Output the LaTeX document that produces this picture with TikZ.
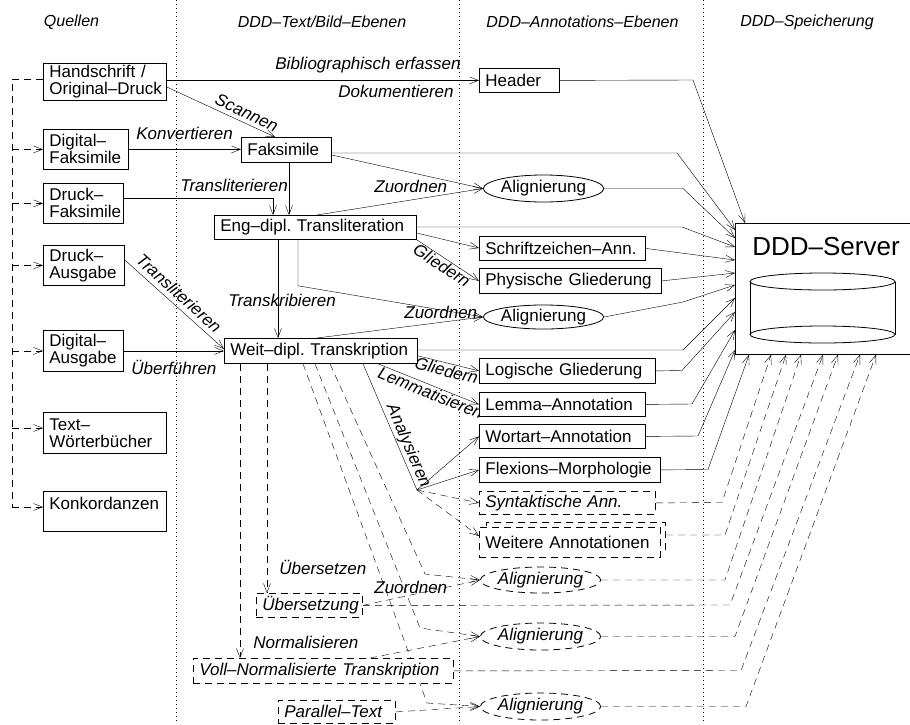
\documentclass[tikz,border=0pt]{standalone}
\usepackage{fontspec}
\setmainfont{Liberation Sans}
\usetikzlibrary{arrows.meta,shapes.geometric,calc}
\pgfdeclarelayer{background}
\pgfsetlayers{background,main}
\begin{document}
\hyphenpenalty=10000 \exhyphenpenalty=10000 \frenchspacing
\begin{tikzpicture}[x=1pt,y=-1pt,line width=0.8pt,
  every node/.style={font=\fontsize{17}{17}\selectfont},
  lbl/.style={font=\fontsize{17}{17}\selectfont\itshape, inner sep=1pt},
  head/.style={font=\fontsize{16}{16}\selectfont\itshape, inner sep=0pt},
  dsh/.style={dash pattern=on 7pt off 5pt},
  box/.style={draw, fill=white, rectangle, anchor=north west, align=left, inner xsep=6pt, inner ysep=0pt},
  dbox/.style={box, dsh, font=\fontsize{17}{17}\selectfont\itshape},
  ell/.style={draw, fill=white, ellipse, inner sep=0pt},
  dell/.style={ell, dsh, font=\fontsize{17}{17}\selectfont\itshape},
  arr/.style={-{Straight Barb[length=9pt,width=7pt]}},
  sep/.style={dash pattern=on 1pt off 3pt, line width=0.8pt}
]
\useasboundingbox (0,0) rectangle (910,724);

% column separators
\draw[sep] (176,0) -- (176,724);
\draw[sep] (459,0) -- (459,724);
\draw[sep] (703,0) -- (703,724);

% column headings
\node[head] (hq) at (71.5,22) {Quellen};
\node[head] (ht) at (322,22) {DDD–Text/Bild–Ebenen};
\node[head] (ha) at (582.5,22) {DDD–Annotations–Ebenen};
\node[head] (hs) at (807,22) {DDD–Speicherung};

% sources
\node[box, text width=111pt, minimum height=37pt] (hand) at (43,63) {Handschrift /\\Original–Druck};
\node[box, text width=73pt, minimum height=40pt] (dfak) at (43,129) {Digital–\\Faksimile};
\node[box, text width=68pt, minimum height=40pt] (drfak) at (43,183) {Druck–\\Faksimile};
\node[box, text width=69pt, minimum height=40pt] (drausg) at (43,245) {Druck–\\Ausgabe};
\node[box, text width=68pt, minimum height=41pt] (digausg) at (43,330) {Digital–\\Ausgabe};
\node[box, text width=111pt, minimum height=41pt] (textwb) at (43,412) {Text–\\Wörterbücher};
\node[box, text width=111pt, minimum height=40pt] (konk) at (43,491) {Konkordanzen\\\mbox{}};

% text / image layers
\node[box, text width=78pt, minimum height=25pt] (fak) at (241,137) {Faksimile};
\node[box, text width=190pt, minimum height=24pt] (eng) at (214,215) {\mbox{Eng–dipl. Transliteration}};
\node[box, text width=181pt, minimum height=25pt] (weit) at (224,338) {\mbox{Weit–dipl. Transkription}};
\node[dbox, text width=94pt, minimum height=24pt] (ueb) at (256,593) {Übersetzung};
\node[dbox, text width=248pt, minimum height=25pt] (voll) at (193,658) {\mbox{Voll–Normalisierte Transkription}};
\node[dbox, text width=105pt, minimum height=23pt] (para) at (278,700) {Parallel–Text};

% annotation layers
\node[box, text width=68pt, minimum height=24pt] (header) at (479,68) {Header};
\node[ell, minimum width=119pt, minimum height=27pt] (al1) at (543.5,188.5) {Alignierung};
\node[box, text width=154pt, minimum height=24pt] (schrift) at (479,236) {Schriftzeichen–Ann.};
\node[box, text width=170pt, minimum height=25pt] (phys) at (479,268) {\mbox{Physische Gliederung}};
\node[ell, minimum width=117pt, minimum height=24pt] (al2) at (543.5,317) {Alignierung};
\node[box, text width=164pt, minimum height=25pt] (logi) at (479,358) {\mbox{Logische Gliederung}};
\node[box, text width=154pt, minimum height=24pt] (lemma) at (479,392) {Lemma–Annotation};
\node[box, text width=154pt, minimum height=24pt] (wortart) at (479,424) {Wortart–Annotation};
\node[box, text width=169pt, minimum height=25pt] (flex) at (479,457) {Flexions–Morphologie};
\node[dbox, text width=164pt, minimum height=23pt] (synt) at (479,491) {\mbox{Syntaktische Ann.}};
\node[box, dsh, text width=167pt, minimum height=29pt] (weitereb) at (486,522) {};
\node[box, dsh, text width=169pt, minimum height=30pt] (weitere) at (479,527) {\mbox{Weitere Annotationen}};
\node[dell, minimum width=115pt, minimum height=26pt] (ad1) at (540.5,580) {Alignierung};
\node[dell, minimum width=115pt, minimum height=27pt] (ad2) at (540.5,636.5) {Alignierung};
\node[dell, minimum width=115pt, minimum height=27pt] (ad3) at (540.5,706.5) {Alignierung};

% storage
\node[draw, fill=white, anchor=north west, minimum width=185pt, minimum height=131pt, inner sep=0pt] (server) at (735,223) {};
\node[font=\fontsize{26}{26}\selectfont] (srvname) at (826,247) {DDD–Server};
\draw (822.5,281.5) ellipse [x radius=72.5, y radius=8.5];
\draw (822.5,334.5) ellipse [x radius=72.5, y radius=8.5];
\draw (750,281.5) -- (750,334.5);
\draw (895,281.5) -- (895,334.5);

% free labels
\node[lbl, anchor=east] (lbib) at (462,65) {Bibliographisch erfassen};
\node[lbl, anchor=east] (ldok) at (455,91) {Dokumentieren};
\node[lbl, anchor=west] (lkonv) at (135,133) {Konvertieren};
\node[lbl, anchor=west] (ltl1) at (179,185) {Transliterieren};
\node[lbl, anchor=west] (lzu1) at (373,186) {Zuordnen};
\node[lbl, anchor=west] (ltrk) at (227,300) {Transkribieren};
\node[lbl, anchor=west] (lzu2) at (403,312) {Zuordnen};
\node[lbl, anchor=west] (luef) at (130,367) {Überführen};
\node[lbl, anchor=west] (luebs) at (278,567) {Übersetzen};
\node[lbl, anchor=west] (lzu3) at (373,587) {Zuordnen};
\node[lbl, anchor=west] (lnorm) at (252,642) {Normalisieren};

\coordinate (railtop) at (12,79);
\coordinate (railbot) at (12,507);
\coordinate (ana) at (417,490);

\begin{pgfonlayer}{background}
% source bracket
\draw[dsh] ($(hand.north west)+(0,16)$) -- (railtop) -- (railbot);
\draw[dsh,arr] (railtop |- dfak.west) -- (dfak.west);
\draw[dsh,arr] (railtop |- drfak.west) -- (drfak.west);
\draw[dsh,arr] (railtop |- drausg.west) -- (drausg.west);
\draw[dsh,arr] (railtop |- digausg.west) -- (digausg.west);
\draw[dsh,arr] ($(railtop)+(0,349)$) -- ($(textwb.north west)+(0,16)$);
\draw[dsh,arr] (railbot) -- ($(konk.north west)+(0,16)$);

% sources to text/image layers
\draw[arr] (hand.east |- header.west) -- (header.west);
\draw[arr] ($(hand.north east)+(0,24)$) -- node[lbl, sloped, above=3pt, pos=0.7] (lscan) {Scannen} ($(fak.north west)+(34,0)$);
\draw[arr] (dfak.east) -- (dfak.east -| fak.west);
\draw[arr] ($(drfak.north east)+(0,15)$) -| ($(eng.north west)+(59,0)$);
\draw[arr] ($(fak.south west)+(48,0)$) -- ($(eng.north west)+(75,0)$);
\draw[arr] ($(drausg.north east)+(0,15)$) -- node[lbl, sloped, above=4pt, pos=0.47] (ltl2) {Transliterieren} ($(weit.north west)+(0,11)$);
\draw[arr] (digausg.east) -- (digausg.east -| weit.west);
\draw[arr] ($(eng.south west)+(64,0)$) -- ($(weit.north west)+(54,0)$);

% text layers to annotations
\draw[arr] ($(fak.north east)+(0,18)$) -- (al1.west);
\draw[arr] ($(eng.north west)+(103,0)$) -- (al1.west);
\draw[arr] ($(eng.north east)+(0,18)$) -- ($(schrift.north west)+(0,12)$);
\draw[arr] (eng.south east) -- node[lbl, sloped, below, pos=0.47] (lgl1) {Gliedern} (phys.west);
\draw[arr] ($(eng.south west)+(84,0)$) -- ++(0,46) -- (al2.west);
\draw[arr] ($(weit.north west)+(93,0)$) -- (al2.west);
\draw[arr] ($(weit.south east)+(0,-8)$) -- node[lbl, sloped, below, pos=0.5] (lgl2) {Gliedern} (logi.west);
\draw[arr] ($(weit.south west)+(154,0)$) -- node[lbl, sloped, below, pos=0.55] (llem) {Lemmatisieren} (lemma.west);
\draw ($(weit.south west)+(139,0)$) -- node[lbl, sloped, above, pos=0.68] (lana) {Analysieren} (ana);
\draw[arr] (ana) -- (wortart.west);
\draw[arr] (ana) -- (flex.west);
\draw[arr,dsh] (ana) -- (synt.west);
\draw[arr,dsh] (ana) -- ($(weitere.north west)+(0,9)$);

% derived texts
\draw[arr,dsh] ($(weit.south west)+(43,0)$) -- ($(ueb.north west)+(11,0)$);
\draw[arr,dsh] ($(weit.south west)+(16,0)$) -- ($(voll.north west)+(47,0)$);
\draw[arr,dsh] ($(weit.south west)+(79,0)$) -- (427,703) -- (ad3.west);
\draw[arr,dsh] ($(weit.south west)+(91,0)$) -- (420,628) -- (ad2.west);
\draw[arr,dsh] ($(weit.south west)+(106,0)$) -- (425,574) -- (ad1.west);
\draw[arr,dsh] (ueb.east) -- (ad1.west);
\draw[arr,dsh] ($(voll.north west)+(177,0)$) -- (ad2.west);
\draw[arr,dsh] (para.east) -- (ad3.west);

% into the server
\draw[arr] (header.east) -- (693,80) -- ($(server.north west)+(10,0)$);
\draw[arr] ($(fak.north east)+(0,16)$) -- (677,153) -- ($(server.north west)+(0,7)$);
\draw[arr] (al1.east) -- (683,188.5) -- ($(server.north west)+(0,15)$);
\draw[arr] ($(eng.north east)+(0,12)$) -- (682,227) -- ($(server.north west)+(0,24)$);
\draw[arr] (schrift.east) -- ($(server.north west)+(0,37)$);
\draw[arr] (phys.east) -- ($(server.north west)+(0,50)$);
\draw[arr] (al2.east) -- (683,302) -- ($(server.north west)+(0,62)$);
\draw[arr] ($(weit.north east)+(0,12)$) -- (683,350) -- ($(server.north west)+(0,75)$);
\draw[arr] (logi.east) -- (682,370.5) -- ($(server.north west)+(0,89)$);
\draw[arr] (lemma.east) -- (692,404) -- ($(server.north west)+(0,107)$);
\draw[arr] (wortart.east) -- (698,436) -- ($(server.north west)+(0,127)$);
\draw[arr] (flex.east) -- (708,469.5) -- ($(server.south west)+(14,0)$);
\draw[arr,dsh] (synt.east) -- (722,502.5) -- ($(server.south west)+(36,0)$);
\draw[arr,dsh] ($(weitereb.north east)+(0,13)$) -- (725,535) -- ($(server.south west)+(51,0)$);
\draw[arr,dsh] (ad1.east) -- (725,580) -- ($(server.south west)+(66,0)$);
\draw[arr,dsh] (ueb.east) -- (730,605) -- ($(server.south west)+(88,0)$);
\draw[arr,dsh] (ad2.east) -- (735,636.5) -- ($(server.south west)+(103,0)$);
\draw[arr,dsh] (voll.east) -- (741,670.5) -- ($(server.south west)+(125,0)$);
\draw[arr,dsh] (ad3.east) -- (746,706.5) -- ($(server.south west)+(141,0)$);
\end{pgfonlayer}
\end{tikzpicture}
\end{document}
